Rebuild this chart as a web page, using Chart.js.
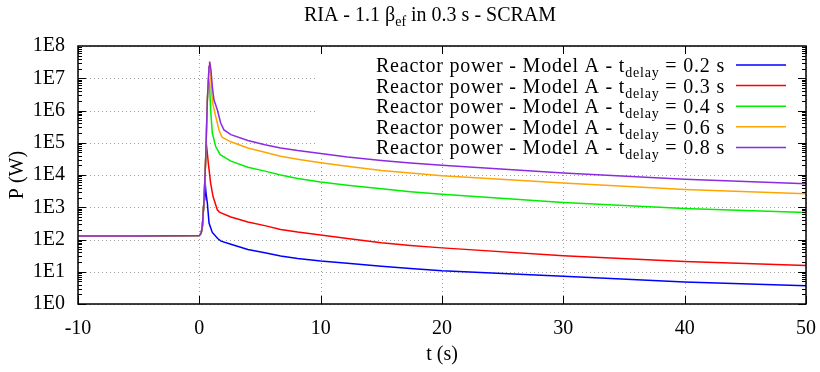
<!DOCTYPE html>
<html><head><meta charset="utf-8">
<script src="https://cdn.jsdelivr.net/npm/chart.js@4/dist/chart.umd.min.js"></script>
<style>html,body{margin:0;padding:0;background:#fff;}canvas{display:block;}</style>
</head><body>
<canvas id="c" width="820" height="372"></canvas>
<script>
// ---- text ----
const titleMain = "RIA - 1.1 β";
const titleSub = "ef";
const titleTail = " in 0.3 s - SCRAM";
const xTitle = "t (s)";
const yTitle = "P (W)";
const labelPrefix = "Reactor power - Model A - t";
const labelSub = "delay";
const delays = ["0.2", "0.3", "0.4", "0.6", "0.8"];
const colors = ["#0000ff", "#ff0000", "#00ee00", "#ffa500", "#8a2be2"];

// ---- ticks ----
const xTickValues = [-10, 0, 10, 20, 30, 40, 50];
const yTickValues = [1, 10, 100, 1e3, 1e4, 1e5, 1e6, 1e7, 1e8];
const yTickLabels = ["1E0", "1E1", "1E2", "1E3", "1E4", "1E5", "1E6", "1E7", "1E8"];

// ---- series (time s, power W) ----
const tBlue = [-10, -5, 0, 0.15, 0.25, 0.39, 0.45, 0.55, 0.66, 0.8, 1.07, 1.51, 1.79, 2.6, 4, 5.4, 6.7, 8.1, 10, 12.2, 15, 17.4, 20, 30, 40, 50];
const pBlue = [129, 129, 132, 158, 257, 1700, 7900, 2800, 1350, 324, 166, 107, 89, 71, 49, 38.9, 30.9, 25.7, 21.4, 18.2, 14.8, 12.6, 10.7, 7.2, 4.8, 3.7];

const tRed = [-10, -5, 0, 0.15, 0.25, 0.39, 0.52, 0.57, 0.66, 0.74, 0.93, 1.13, 1.48, 1.65, 2.6, 4, 5.4, 6.7, 8.1, 10, 12.2, 15, 17.4, 20, 30, 40, 50];
const pRed = [129, 129, 132, 158, 257, 1700, 29500, 1.0e5, 4.8e4, 2.34e4, 5600, 2140, 832, 708, 501, 347, 269, 204, 170, 138, 107, 79, 65, 55, 31.6, 20.9, 15.5];

const tGreen = [-10, -5, 0, 0.15, 0.25, 0.39, 0.52, 0.66, 0.76, 0.85, 0.93, 1.07, 1.35, 1.72, 2.6, 4, 5.4, 6.7, 8.1, 10, 12.2, 15, 17.4, 20, 30, 40, 50];
const pGreen = [129, 129, 132, 158, 257, 1700, 29500, 2.1e6, 1.0e7, 5.6e6, 1.05e6, 2.0e5, 7.6e4, 4.27e4, 2.69e4, 1.74e4, 1.32e4, 1.0e4, 7760, 6030, 4790, 3720, 3020, 2510, 1410, 912, 692];

const tOrange = [-10, -5, 0, 0.15, 0.25, 0.39, 0.52, 0.66, 0.8, 0.85, 0.93, 1.02, 1.13, 1.35, 1.62, 1.87, 2.6, 4, 5.4, 6.7, 8.1, 10, 12.2, 15, 17.4, 20, 30, 40, 50];
const pOrange = [129, 129, 132, 158, 257, 1700, 29500, 2.1e6, 2.3e7, 3.2e7, 1.1e7, 3.4e6, 1.5e6, 6.5e5, 2.5e5, 1.48e5, 1.07e5, 6.9e4, 5.1e4, 3.8e4, 3.09e4, 2.4e4, 1.86e4, 1.38e4, 1.15e4, 9550, 5620, 3550, 2630];

const tPurple = [-10, -5, 0, 0.15, 0.25, 0.39, 0.52, 0.66, 0.8, 0.85, 0.96, 1.07, 1.21, 1.48, 1.76, 2.03, 2.6, 4, 5.4, 6.7, 8.1, 10, 12.2, 15, 17.4, 20, 30, 40, 50];
const pPurple = [129, 129, 132, 158, 257, 1700, 29500, 2.1e6, 2.3e7, 3.3e7, 1.8e7, 5.5e6, 2.1e6, 1.05e6, 4.1e5, 2.5e5, 1.78e5, 1.17e5, 8.7e4, 6.9e4, 5.75e4, 4.68e4, 3.63e4, 2.82e4, 2.34e4, 2.0e4, 1.15e4, 7400, 5370];

const seriesT = [tBlue, tRed, tGreen, tOrange, tPurple];
const seriesP = [pBlue, pRed, pGreen, pOrange, pPurple];

const FONT = "'Liberation Serif', 'DejaVu Serif', serif";
const FS = 20;

const datasets = seriesT.map((ts, k) => ({
  label: labelPrefix + labelSub + " = " + delays[k] + " s",
  data: ts.map((t, i) => ({ x: t, y: seriesP[k][i] })),
  borderColor: colors[k],
  backgroundColor: colors[k],
  borderWidth: 1.5,
  pointRadius: 0,
  tension: 0,
  fill: false,
  order: seriesT.length - k
}));

function drawSubText(ctx, x, y, main, sub, tail, align, spacing) {
  ctx.letterSpacing = spacing || "0px";
  const big = FS + "px " + FONT;
  const small = Math.round(FS * 0.72) + "px " + FONT;
  ctx.font = big;
  const w1 = ctx.measureText(main).width;
  ctx.font = small;
  const w2 = ctx.measureText(sub).width;
  ctx.font = big;
  const w3 = ctx.measureText(tail).width;
  const total = w1 + w2 + w3;
  const x0 = align === "center" ? x - total / 2 : (align === "right" ? x - total : x);
  ctx.textAlign = "left";
  ctx.textBaseline = "alphabetic";
  ctx.fillStyle = "#000";
  ctx.font = big;
  ctx.fillText(main, x0, y);
  ctx.font = small;
  ctx.fillText(sub, x0 + w1, y + 5);
  ctx.font = big;
  ctx.fillText(tail, x0 + w1 + w2, y);
  ctx.letterSpacing = "0px";
  return total;
}

const gnuplotLook = {
  id: "gnuplotLook",
  beforeDatasetsDraw(chart) {
    const ctx = chart.ctx;
    const { left, right, top, bottom } = chart.chartArea;
    const xs = chart.scales.x, ys = chart.scales.y;
    ctx.save();
    ctx.strokeStyle = "#a0a0a0";
    ctx.lineWidth = 1;
    ctx.setLineDash([1, 3]);
    xTickValues.forEach(v => {
      const px = Math.round(xs.getPixelForValue(v)) + 0.5;
      ctx.beginPath(); ctx.moveTo(px, bottom); ctx.lineTo(px, top); ctx.stroke();
    });
    yTickValues.forEach(v => {
      const py = Math.round(ys.getPixelForValue(v)) + 0.5;
      ctx.beginPath(); ctx.moveTo(left, py); ctx.lineTo(right, py); ctx.stroke();
    });
    ctx.setLineDash([]);
    // opaque key area
    ctx.fillStyle = "#fff";
    ctx.fillRect(316, top + 1, right - 316 - 1, 158 - top);
    ctx.restore();
  },
  afterDatasetsDraw(chart) {
    const ctx = chart.ctx;
    const { left, right, top, bottom } = chart.chartArea;
    const xs = chart.scales.x, ys = chart.scales.y;
    ctx.save();
    ctx.strokeStyle = "#000";
    ctx.lineWidth = 1;
    xTickValues.forEach(v => {
      const px = Math.round(xs.getPixelForValue(v)) + 0.5;
      ctx.beginPath();
      ctx.moveTo(px, bottom); ctx.lineTo(px, bottom - 8);
      ctx.moveTo(px, top); ctx.lineTo(px, top + 8);
      ctx.stroke();
    });
    for (let e = 0; e < 8; e++) {
      for (let m = 1; m <= 9; m++) {
        const v = m * Math.pow(10, e);
        const py = Math.round(ys.getPixelForValue(v)) + 0.5;
        const len = m === 1 ? 8 : 4;
        ctx.beginPath();
        ctx.moveTo(left, py); ctx.lineTo(left + len, py);
        ctx.moveTo(right, py); ctx.lineTo(right - len, py);
        ctx.stroke();
      }
    }
    ctx.lineWidth = 1.5;
    ctx.strokeRect(left, top, right - left, bottom - top);
    // key
    const rowY0 = 65, rowDy = 20.6;
    chart.data.datasets.forEach((ds, k) => {
      const y = rowY0 + k * rowDy;
      drawSubText(ctx, 725, y + 7, labelPrefix, labelSub, " = " + delays[k] + " s", "right", "0.8px");
      ctx.strokeStyle = ds.borderColor;
      ctx.lineWidth = 1.5;
      ctx.beginPath(); ctx.moveTo(736, y); ctx.lineTo(786, y); ctx.stroke();
    });
    ctx.restore();
  },
  afterDraw(chart) {
    const ctx = chart.ctx;
    ctx.save();
    drawSubText(ctx, 430, 21, titleMain, titleSub, titleTail, "center");
    ctx.restore();
  }
};

new Chart(document.getElementById("c"), {
  type: "line",
  data: { datasets },
  options: {
    responsive: false,
    devicePixelRatio: 1,
    animation: false,
    parsing: false,
    layout: { padding: { top: 46, right: 14, left: 0, bottom: 0 } },
    plugins: { legend: { display: false }, title: { display: false }, tooltip: { enabled: false } },
    scales: {
      x: {
        type: "linear", min: -10, max: 50,
        afterBuildTicks: s => { s.ticks = xTickValues.map(v => ({ value: v })); },
        afterFit: s => { s.height = 68; s.paddingLeft = 0; s.paddingRight = 0; },
        grid: { display: false, drawTicks: false },
        border: { display: false },
        ticks: { color: "#000", font: { family: FONT, size: FS }, padding: 13, autoSkip: false, maxRotation: 0,
                 callback: v => String(v) },
        title: { display: true, text: xTitle, color: "#000", font: { family: FONT, size: FS }, padding: { top: 0, bottom: 5 } }
      },
      y: {
        type: "logarithmic", min: 1, max: 1e8,
        afterBuildTicks: s => { s.ticks = yTickValues.map(v => ({ value: v })); },
        afterFit: s => { s.width = 78; s.paddingTop = 0; s.paddingBottom = 0; },
        grid: { display: false, drawTicks: false },
        border: { display: false },
        ticks: { color: "#000", font: { family: FONT, size: FS }, padding: 13, autoSkip: false,
                 callback: (v, i) => yTickLabels[i] },
        title: { display: true, text: yTitle, color: "#000", font: { family: FONT, size: FS }, padding: { top: 6, bottom: 0 } }
      }
    }
  },
  plugins: [gnuplotLook]
});
</script>
</body></html>
